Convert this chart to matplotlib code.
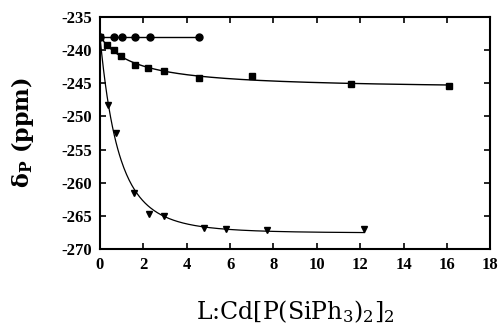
import matplotlib
matplotlib.use("Agg")
import matplotlib.pyplot as plt
import numpy as np

plt.rcParams["axes.unicode_minus"] = False
plt.rcParams["mathtext.fontset"] = "dejavuserif"

# Data
circ_x = [0.0, 0.65, 1.0, 1.6, 2.3, 4.55]
circ_y = [-238.0, -238.0, -238.0, -238.0, -238.0, -238.0]

sq_x = [0.0, 0.33, 0.65, 0.97, 1.6, 2.2, 2.95, 4.56, 7.0, 11.6, 16.1]
sq_y = [-238.0, -239.2, -240.0, -240.9, -242.2, -242.7, -243.1, -244.2, -243.9, -245.1, -245.4]

tri_x = [0.37, 0.74, 1.57, 2.26, 2.95, 4.8, 5.8, 7.7, 12.2]
tri_y = [-248.3, -252.5, -261.5, -264.7, -265.0, -266.8, -267.0, -267.1, -267.0]


# Fit y = a + b / (1 + x/k)**n, grid search on k and n, linear lsq for a, b
def fit_curve(x, y, x0=None, y0=None):
    x = np.asarray(x)
    y = np.asarray(y)
    w = np.ones_like(x)
    if x0 is not None:
        x = np.append(x, x0)
        y = np.append(y, y0)
        w = np.append(w, 5.0)
    best = None
    for n in np.linspace(0.5, 4, 36):
        for k in np.linspace(0.1, 6, 120):
            f = 1.0 / (1 + x / k) ** n
            A = np.column_stack([np.ones_like(x), f]) * w[:, None]
            coef, _, _, _ = np.linalg.lstsq(A, y * w, rcond=None)
            err = np.sum((A @ coef - y * w) ** 2)
            if best is None or err < best[0]:
                best = (err, k, n, coef)
    _, k, n, (a, b) = best
    return lambda t: a + b / (1 + t / k) ** n


sq_fit = fit_curve(sq_x, sq_y)
tri_fit = fit_curve(tri_x, tri_y, x0=0.0, y0=-238.0)

fig = plt.figure(figsize=(4.99, 3.35), dpi=100)
ax = fig.add_axes([0.2004, 0.257, 0.782, 0.692])

# circles: flat line
ax.plot(circ_x, circ_y, color="black", lw=1.0, marker="o", ms=5)

# squares
xs = np.linspace(0, max(sq_x), 300)
ax.plot(xs, sq_fit(xs), color="black", lw=1.0)
ax.plot(sq_x, sq_y, ls="none", marker="s", ms=5, color="black")

# triangles
xt = np.linspace(0, max(tri_x), 300)
ax.plot(xt, tri_fit(xt), color="black", lw=0.9)
ax.plot(tri_x, tri_y, ls="none", marker="v", ms=5, color="black")

ax.set_xlim(0, 18)
ax.set_ylim(-270, -235)
ax.set_xticks(np.arange(0, 19, 2))
ax.set_yticks(np.arange(-270, -234, 5))

ax.tick_params(direction="in", top=True, right=True, length=4, width=1.2,
               labelsize=12, pad=6)
for lab in ax.get_xticklabels() + ax.get_yticklabels():
    lab.set_family("Liberation Serif")
    lab.set_fontweight("bold")
for s in ax.spines.values():
    s.set_linewidth(1.5)

ax.set_ylabel(r"δ$_\mathbf{P}$ (ppm)", fontsize=16, fontweight="bold",
              family="DejaVu Serif", labelpad=18)
ax.set_xlabel(r"L:Cd[P(SiPh$_3$)$_2$]$_2$", fontsize=17,
              family="DejaVu Serif", labelpad=18)

fig.savefig("out.png", dpi=100)
